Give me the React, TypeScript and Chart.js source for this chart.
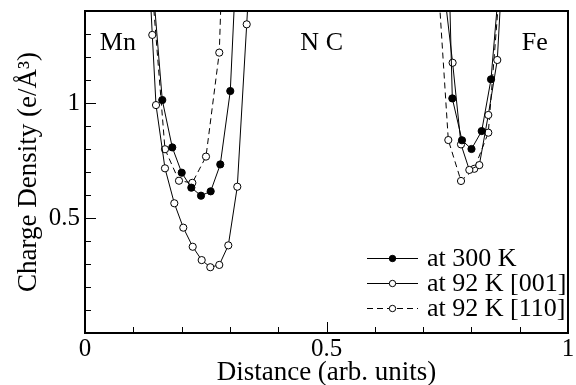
import React, { useEffect, useRef } from "react";
import { Chart, registerables } from "chart.js";

Chart.register(...registerables);

// ---- data ----
// at 300 K (filled circles, solid line)
const dist300KLeft = [0.14, 0.16, 0.1807, 0.2002, 0.2201, 0.2402, 0.2602, 0.2801, 0.3008, 0.321];
const dens300KLeft = [1.53, 1.013, 0.807, 0.697, 0.632, 0.597, 0.616, 0.733, 1.052, 1.96];
const dist300KRight = [0.7405, 0.7605, 0.7805, 0.8002, 0.8213, 0.8406, 0.8606];
const dens300KRight = [2.6, 1.02, 0.838, 0.8, 0.878, 1.103, 1.6];

// at 92 K [001] (open circles, solid line)
const dist001Left = [0.12, 0.1393, 0.147, 0.1656, 0.1849, 0.2035, 0.223, 0.2416, 0.2594, 0.278, 0.2967, 0.3153, 0.3348, 0.354];
const dens001Left = [2.1, 1.296, 0.991, 0.716, 0.564, 0.458, 0.375, 0.317, 0.286, 0.296, 0.381, 0.636, 1.342, 2.05];
const dist001Right = [0.742, 0.7611, 0.7785, 0.7957, 0.8164, 0.835, 0.8536, 0.8727];
const dens001Right = [1.52, 1.175, 0.82, 0.709, 0.73, 0.948, 1.187, 1.91];

// at 92 K [110] (open circles, dashed line)
const dist110Left = [0.1376, 0.1656, 0.1946, 0.2222, 0.2505, 0.278, 0.306];
const dens110Left = [1.535, 0.799, 0.662, 0.653, 0.767, 1.219, 3.0];
const dist110Right = [0.7246, 0.7522, 0.7785, 0.806, 0.835, 0.862];
const dens110Right = [1.74, 0.839, 0.661, 0.714, 0.871, 1.6];

const seriesNames = ["at 300 K", "at 92 K [001]", "at 92 K [110]"];

// axis ticks
const xMinorTicks = [0, 0.1, 0.2, 0.3, 0.4, 0.5, 0.6, 0.7, 0.8, 0.9, 1];
const xMajorTicks = [0, 0.5, 1];
const xTickLabels = ["0", "0.5", "1"];
const yMinorTicks = [0.1, 0.2, 0.3, 0.4, 0.5, 0.6, 0.7, 0.8, 0.9, 1, 1.1, 1.2, 1.3];
const yMajorTicks = [0.5, 1];
const yTickLabels = ["0.5", "1"];

// region labels
const regionNames = ["Mn", "N C", "Fe"];
const regionX = [0.068, 0.49, 0.931];
const regionY = [1.26, 1.26, 1.26];

const FONT = "'Liberation Serif', 'Times New Roman', serif";

function toPoints(xs: number[], ys: number[]) {
  return xs.map((x, i) => ({ x, y: ys[i] }));
}

function joinWells(xl: number[], yl: number[], xr: number[], yr: number[]) {
  return [...toPoints(xl, yl), { x: 0.5, y: null as any }, ...toPoints(xr, yr)];
}

function labelFor(v: number, vals: number[], labels: string[]) {
  const i = vals.findIndex((t) => Math.abs(t - v) < 1e-6);
  return i >= 0 ? labels[i] : "";
}

const decorPlugin = {
  id: "decor",
  afterDraw(chart: any) {
    const { ctx, chartArea: a, scales } = chart;
    const xs = scales.x;
    const ys = scales.y;
    ctx.save();
    ctx.strokeStyle = "#000";
    ctx.fillStyle = "#000";
    // inward ticks
    ctx.lineWidth = 1;
    ctx.beginPath();
    xMinorTicks.forEach((v) => {
      const px = Math.round(xs.getPixelForValue(v)) + 0.5;
      const len = xMajorTicks.some((m) => Math.abs(m - v) < 1e-6) ? 11 : 6;
      ctx.moveTo(px, a.bottom);
      ctx.lineTo(px, a.bottom - len);
    });
    yMinorTicks.forEach((v) => {
      const py = Math.round(ys.getPixelForValue(v)) + 0.5;
      const len = yMajorTicks.some((m) => Math.abs(m - v) < 1e-6) ? 11 : 6;
      ctx.moveTo(a.left, py);
      ctx.lineTo(a.left + len, py);
    });
    ctx.stroke();
    // frame
    ctx.lineWidth = 2;
    ctx.strokeRect(a.left, a.top, a.right - a.left, a.bottom - a.top);

    // region labels
    ctx.font = `26px ${FONT}`;
    ctx.textAlign = "center";
    ctx.textBaseline = "middle";
    regionNames.forEach((t, i) => {
      ctx.fillText(t, xs.getPixelForValue(regionX[i]), ys.getPixelForValue(regionY[i]));
    });

    // legend (inside the plot, bottom right)
    const lineStart = a.right - 201;
    const lineEnd = a.right - 150;
    const textX = a.right - 141;
    ctx.font = `26px ${FONT}`;
    chart.data.datasets.forEach((ds: any, i: number) => {
      const y = a.bottom - 75 + i * 25 + 0.5;
      ctx.save();
      ctx.lineWidth = 1;
      ctx.setLineDash(ds.borderDash || []);
      ctx.beginPath();
      ctx.moveTo(lineStart, y);
      ctx.lineTo(lineEnd, y);
      ctx.stroke();
      ctx.restore();
      ctx.beginPath();
      ctx.arc((lineStart + lineEnd) / 2, y, 3.2, 0, Math.PI * 2);
      ctx.fillStyle = ds.pointBackgroundColor;
      ctx.fill();
      ctx.lineWidth = 1;
      ctx.stroke();
      ctx.fillStyle = "#000";
      ctx.textAlign = "left";
      ctx.textBaseline = "middle";
      ctx.fillText(ds.label, textX, y + 1);
    });
    ctx.restore();
  },
};

export default function App() {
  const ref = useRef<HTMLCanvasElement | null>(null);

  useEffect(() => {
    document.body.style.margin = "0";
    const canvas = ref.current;
    if (!canvas) return;
    Chart.defaults.font.family = FONT;
    Chart.defaults.font.size = 24;
    Chart.defaults.color = "#000";

    const common = {
      borderColor: "#000",
      borderWidth: 1,
      pointRadius: 3.6,
      pointBorderWidth: 1,
      pointBorderColor: "#000",
      pointHoverRadius: 3.6,
      showLine: true,
      spanGaps: false,
      tension: 0,
    };

    const chart = new Chart(canvas, {
      type: "scatter",
      data: {
        datasets: [
          {
            ...common,
            label: seriesNames[0],
            data: joinWells(dist300KLeft, dens300KLeft, dist300KRight, dens300KRight),
            pointBackgroundColor: "#000",
            backgroundColor: "#000",
          },
          {
            ...common,
            label: seriesNames[1],
            data: joinWells(dist001Left, dens001Left, dist001Right, dens001Right),
            pointBackgroundColor: "#fff",
            backgroundColor: "#fff",
          },
          {
            ...common,
            label: seriesNames[2],
            data: joinWells(dist110Left, dens110Left, dist110Right, dens110Right),
            pointBackgroundColor: "#fff",
            backgroundColor: "#fff",
            borderDash: [6, 4],
          },
        ],
      },
      options: {
        animation: false,
        responsive: false,
        devicePixelRatio: 1,
        layout: { padding: { left: 0, right: 8, top: 11, bottom: 0 } },
        plugins: {
          legend: { display: false },
          tooltip: { enabled: false },
        },
        scales: {
          x: {
            type: "linear",
            min: 0,
            max: 1,
            afterBuildTicks: (s: any) => {
              s.ticks = xMajorTicks.map((v) => ({ value: v }));
            },
            ticks: {
              autoSkip: false,
              maxRotation: 0,
              padding: 1,
              color: "#000",
              font: { size: 25, family: FONT },
              callback: (v: any) => labelFor(Number(v), xMajorTicks, xTickLabels),
            },
            grid: { display: false, drawTicks: false },
            border: { display: false },
            title: {
              display: true,
              text: "Distance (arb. units)",
              color: "#000",
              font: { size: 27, family: FONT, lineHeight: 0.9 },
              padding: { top: 0, bottom: 0 },
            },
            afterFit: (s: any) => {
              s.height = 52;
              s.paddingLeft = 0;
              s.paddingRight = 0;
            },
          },
          y: {
            type: "linear",
            min: 0,
            max: 1.4,
            afterBuildTicks: (s: any) => {
              s.ticks = yMajorTicks.map((v) => ({ value: v }));
            },
            ticks: {
              autoSkip: false,
              padding: 5,
              color: "#000",
              font: { size: 25, family: FONT },
              callback: (v: any) => labelFor(Number(v), yMajorTicks, yTickLabels),
            },
            grid: { display: false, drawTicks: false },
            border: { display: false },
            title: {
              display: true,
              text: "Charge Density (e/Å³)",
              color: "#000",
              font: { size: 27, family: FONT },
              padding: { top: 13, bottom: 0 },
            },
            afterFit: (s: any) => {
              s.width = 85;
              s.paddingTop = 0;
              s.paddingBottom = 0;
            },
          },
        },
      },
      plugins: [decorPlugin],
    } as any);

    return () => {
      chart.destroy();
    };
  }, []);

  return (
    <div style={{ width: 576, height: 385 }}>
      <canvas ref={ref} width={576} height={385} style={{ display: "block" }} />
    </div>
  );
}
